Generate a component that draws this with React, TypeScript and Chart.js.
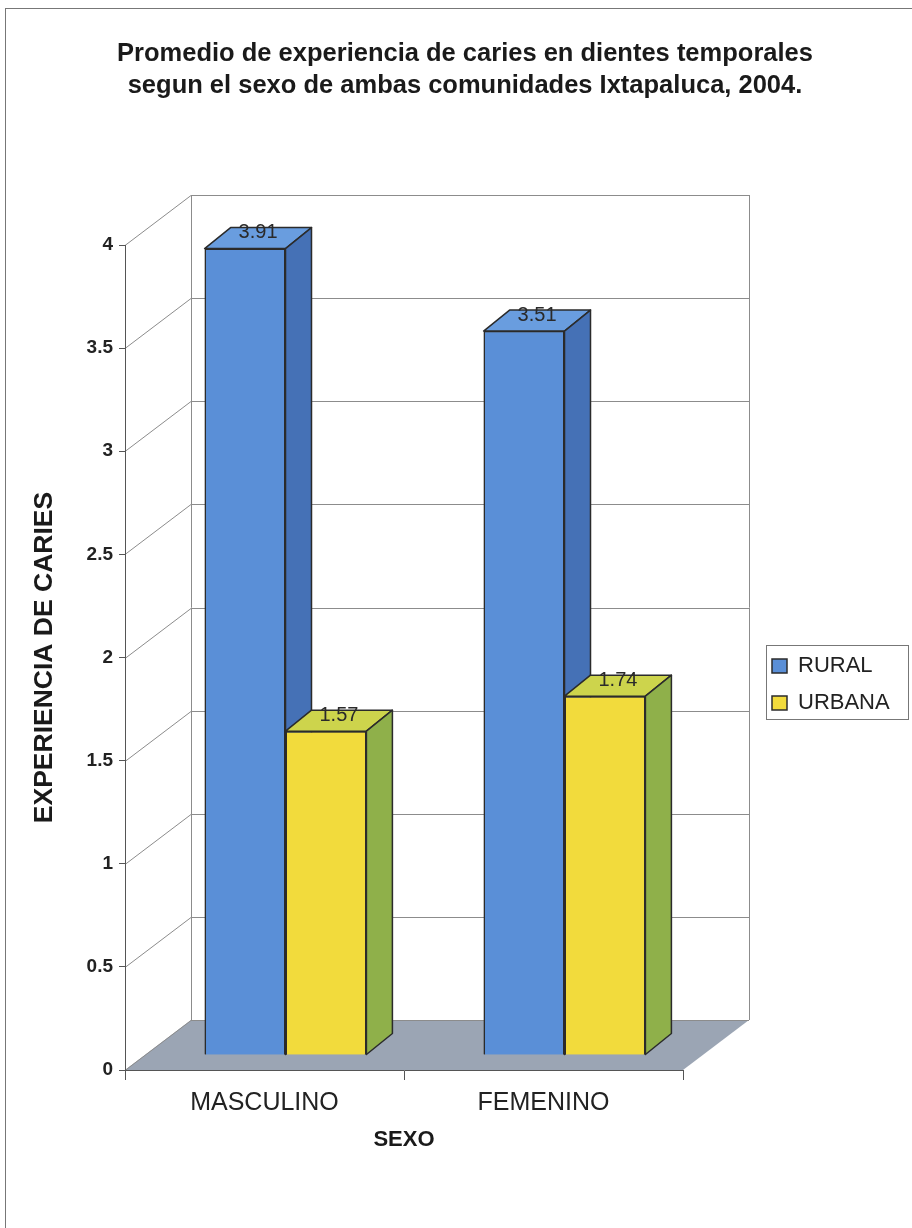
import React, { useEffect, useRef } from "react";
import { Chart, registerables } from "chart.js";

Chart.register(...registerables);

const categories = ["MASCULINO", "FEMENINO"];
const seriesNames = ["RURAL", "URBANA"];
const ruralValues = [3.91, 3.51];
const urbanaValues = [1.57, 1.74];
const yMin = 0;
const yMax = 4;
const yStep = 0.5;
const titleLines = [
  "Promedio de experiencia de caries en dientes temporales",
  "segun el sexo de ambas comunidades Ixtapaluca, 2004.",
];
const yAxisTitle = "EXPERIENCIA DE CARIES";
const xAxisTitle = "SEXO";

const FONT = "'Liberation Sans', Arial, Helvetica, sans-serif";

// 3D geometry (oblique projection)
const WALL = { dx: 66, dy: -50 };
const BAR_FRONT = { dx: 21, dy: -15 };
const BAR_DEPTH = { dx: 26, dy: -21 };

const faceColors = [
  { front: "#5a8fd7", top: "#699ddf", side: "#4571b6" },
  { front: "#f2db3c", top: "#cdd44c", side: "#8fb04a" },
];

const threeDPlugin = {
  id: "threeD",
  afterLayout(chart: any) {
    const lg = chart.legend;
    if (lg) {
      lg.left = 757;
      lg.top = 640;
      lg.right = 757 + lg.width;
      lg.bottom = 640 + 90;
    }
  },
  beforeDraw(chart: any) {
    const ctx = chart.ctx;
    const { left: L, right: R, top: T, bottom: B } = chart.chartArea;
    const ys = chart.scales.y;
    ctx.save();
    ctx.fillStyle = "#ffffff";
    ctx.fillRect(0, 0, chart.width, chart.height);
    // outer frame
    ctx.strokeStyle = "#777";
    ctx.lineWidth = 1;
    ctx.strokeRect(5.5, 8.5, 1000, 1400);
    // floor
    ctx.fillStyle = "#9ba5b4";
    ctx.beginPath();
    ctx.moveTo(L, B);
    ctx.lineTo(R, B);
    ctx.lineTo(R + WALL.dx, B + WALL.dy);
    ctx.lineTo(L + WALL.dx, B + WALL.dy);
    ctx.closePath();
    ctx.fill();
    // walls grid
    ctx.strokeStyle = "#8c8c8c";
    ctx.lineWidth = 1;
    ys.ticks.forEach((t: any) => {
      const y = Math.round(ys.getPixelForValue(t.value)) + 0.5;
      ctx.beginPath();
      ctx.moveTo(L, y);
      ctx.lineTo(L + WALL.dx, y + WALL.dy);
      ctx.lineTo(R + WALL.dx, y + WALL.dy);
      ctx.stroke();
    });
    ctx.beginPath();
    ctx.moveTo(L + WALL.dx + 0.5, T + WALL.dy);
    ctx.lineTo(L + WALL.dx + 0.5, B + WALL.dy);
    ctx.moveTo(R + WALL.dx + 0.5, T + WALL.dy);
    ctx.lineTo(R + WALL.dx + 0.5, B + WALL.dy);
    ctx.stroke();
    ctx.restore();
  },
  beforeDatasetsDraw(chart: any) {
    chart.ctx.save();
    chart.ctx.translate(BAR_FRONT.dx, BAR_FRONT.dy);
  },
  afterDatasetsDraw(chart: any) {
    const ctx = chart.ctx;
    // redraw in dataset order so later series hide earlier side faces
    chart.data.datasets.forEach((ds: any, i: number) => {
      const meta = chart.getDatasetMeta(i);
      const c = faceColors[i];
      meta.data.forEach((bar: any) => {
        bar.draw(ctx);
        const p = bar.getProps(["x", "y", "base", "width"], true);
        const l = p.x - p.width / 2;
        const r = p.x + p.width / 2;
        ctx.save();
        ctx.strokeStyle = "#2b2b2b";
        ctx.lineWidth = 1.5;
        ctx.lineJoin = "round";
        ctx.fillStyle = c.top;
        ctx.beginPath();
        ctx.moveTo(l, p.y);
        ctx.lineTo(l + BAR_DEPTH.dx, p.y + BAR_DEPTH.dy);
        ctx.lineTo(r + BAR_DEPTH.dx, p.y + BAR_DEPTH.dy);
        ctx.lineTo(r, p.y);
        ctx.closePath();
        ctx.fill();
        ctx.stroke();
        ctx.fillStyle = c.side;
        ctx.beginPath();
        ctx.moveTo(r, p.y);
        ctx.lineTo(r + BAR_DEPTH.dx, p.y + BAR_DEPTH.dy);
        ctx.lineTo(r + BAR_DEPTH.dx, p.base + BAR_DEPTH.dy);
        ctx.lineTo(r, p.base);
        ctx.closePath();
        ctx.fill();
        ctx.stroke();
        ctx.restore();
      });
    });
    ctx.save();
    ctx.font = `20px ${FONT}`;
    ctx.fillStyle = "#2a2a2a";
    ctx.textAlign = "center";
    ctx.textBaseline = "middle";
    chart.data.datasets.forEach((ds: any, i: number) => {
      const meta = chart.getDatasetMeta(i);
      meta.data.forEach((bar: any, j: number) => {
        const p = bar.getProps(["x", "y"], true);
        ctx.fillText(ds.data[j].toFixed(2), p.x + BAR_DEPTH.dx / 2, p.y + BAR_DEPTH.dy + 5);
      });
    });
    ctx.restore();
    ctx.restore(); // undo translate
  },
  afterDraw(chart: any) {
    const ctx = chart.ctx;
    ctx.save();
    ctx.strokeStyle = "#777";
    ctx.lineWidth = 1;
    ctx.strokeRect(766.5, 645.5, 142, 74);
    ctx.restore();
  },
};

export default function App() {
  const ref = useRef<HTMLCanvasElement | null>(null);
  useEffect(() => {
    if (!ref.current) return;
    const chart = new Chart(ref.current, {
      type: "bar",
      data: {
        labels: categories,
        datasets: [
          {
            label: seriesNames[0],
            data: ruralValues,
            backgroundColor: faceColors[0].front,
            borderColor: "#2b2b2b",
            borderWidth: 1.5,
            clip: false as any,
          },
          {
            label: seriesNames[1],
            data: urbanaValues,
            backgroundColor: faceColors[1].front,
            borderColor: "#2b2b2b",
            borderWidth: 1.5,
            clip: false as any,
          },
        ],
      },
      options: {
        responsive: false,
        animation: false,
        categoryPercentage: 0.58,
        barPercentage: 1,
        layout: { padding: { left: 18, right: 0, top: 0, bottom: 0 } },
        plugins: {
          title: {
            display: true,
            text: titleLines,
            color: "#1a1a1a",
            font: { family: FONT, size: 25.5, weight: "bold", lineHeight: 32 / 25.5 },
            padding: { top: 38, bottom: 143 },
          },
          legend: {
            display: true,
            position: "chartArea" as any,
            align: "start",
            labels: {
              color: "#222",
              font: { family: FONT, size: 22 },
              boxWidth: 15,
              boxHeight: 14,
              padding: 15,
            },
          },
          tooltip: { enabled: false },
        },
        scales: {
          x: {
            type: "category",
            offset: true,
            grid: { offset: true, drawOnChartArea: false, tickLength: 10, color: "#555" },
            border: { display: true, color: "#555", width: 1 },
            ticks: { color: "#222", font: { family: FONT, size: 25 }, padding: 8, maxRotation: 0 },
            title: {
              display: true,
              text: xAxisTitle,
              color: "#1a1a1a",
              font: { family: FONT, size: 22, weight: "bold" },
              padding: { top: 0, bottom: 75 },
            },
            afterFit: (s: any) => {
              s.height = 158;
            },
          },
          y: {
            min: yMin,
            max: yMax,
            grid: { drawOnChartArea: false, tickLength: 6, color: "#555" },
            border: { display: true, color: "#555", width: 1 },
            ticks: {
              stepSize: yStep,
              color: "#222",
              font: { family: FONT, size: 19, weight: "bold" },
              padding: 6,
              callback: (v: any) => String(v),
            },
            title: {
              display: true,
              text: yAxisTitle,
              color: "#1a1a1a",
              font: { family: FONT, size: 26.5, weight: "bold" },
              padding: { top: 11, bottom: 0 },
            },
            afterFit: (s: any) => {
              s.width = 107;
            },
          },
          yRight: {
            type: "linear",
            position: "right",
            display: true,
            grid: { display: false, drawTicks: false },
            border: { display: false },
            ticks: { display: false },
            afterFit: (s: any) => {
              s.width = 229;
            },
          },
        },
      },
      plugins: [threeDPlugin],
    });
    return () => chart.destroy();
  }, []);
  return (
    <div style={{ position: "absolute", left: 0, top: 0, width: 912, height: 1228 }}>
      <canvas ref={ref} width={912} height={1228} style={{ display: "block" }} />
    </div>
  );
}
